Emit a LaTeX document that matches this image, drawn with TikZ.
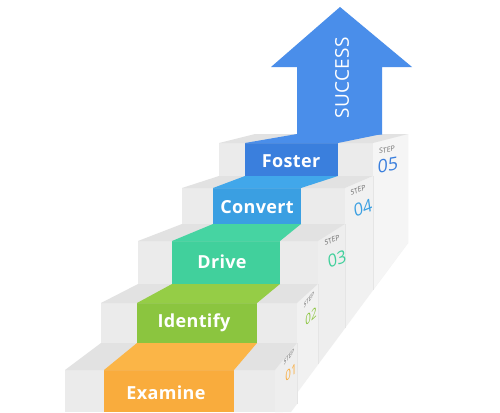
\documentclass[tikz,border=0pt]{standalone}
\usepackage{fontspec}
\setmainfont{Open Sans}
\newfontfamily\labfont{Open Sans}[LetterSpace=2]
\begin{document}
\begin{tikzpicture}[x=1pt,y=-1pt,
  riserg/.style={fill=gray!16, draw=none},
  treadg/.style={fill=gray!23, draw=none},
  sideg/.style={fill=gray!11, draw=none},
  seam/.style={draw=gray!20, line width=0.4pt},
  lab/.style={text=white, font=\labfont\fontsize{18}{18}\selectfont\bfseries, inner sep=0pt},
  stepword/.style={inner sep=0pt, font=\fontsize{7}{7}\selectfont, text=gray!85!black},
  stepnum/.style={inner sep=0pt, font=\fontsize{18}{18}\selectfont},
  narrowword/.style={stepword, xscale=0.65, yslant=0.8},
  narrownum/.style={inner sep=0pt, font=\fontsize{14}{14}\selectfont, xscale=0.7, yslant=0.65}
]
\definecolor{orR}{HTML}{F9AC3D}\definecolor{orT}{HTML}{FBB547}
\definecolor{grR}{HTML}{8BC53F}\definecolor{grT}{HTML}{95CD46}
\definecolor{tlR}{HTML}{41D09C}\definecolor{tlT}{HTML}{46D4A2}
\definecolor{lbR}{HTML}{3A9FE2}\definecolor{lbT}{HTML}{41A7EA}
\definecolor{bbR}{HTML}{3A7FDD}\definecolor{bbT}{HTML}{4A8EEA}
\useasboundingbox (0,0) rectangle (500,412);
\fill[white] (0,0) rectangle (500,412);
% side face of the staircase
\path[sideg] (275,412) -- (275,370) -- (297,343) -- (297,303) -- (318,284) -- (318,241)
  -- (345,224) -- (345,188) -- (373,176) -- (373,143) -- (408,134) -- (408,243) -- (283,412) -- cycle;
\fill[gray!8] (373,143) -- (408,134) -- (408,243) -- (373,290) -- cycle;
\fill[gray!13] (318,241) -- (345,224) -- (345,328) -- (318,364) -- cycle;
\fill[gray!13] (275,370) -- (297,343) -- (297,404) -- (291,412) -- (275,412) -- cycle;
\draw[seam] (297,343) -- (297,404);
\draw[seam] (318,284) -- (318,364);
\draw[seam] (345,224) -- (345,328);
\draw[seam] (373,176) -- (373,290);
% step 1
\path[riserg] (65,370) rectangle (275,412);
\fill[orR] (104,370) rectangle (234,412);
\path[treadg] (65,370) -- (275,370) -- (297,343) -- (101,343) -- cycle;
\fill[orT] (104,370) -- (234,370) -- (257,343) -- (137,343) -- cycle;
% step 2
\path[riserg] (101,303) rectangle (297,343);
\fill[grR] (137,303) rectangle (257,343);
\path[treadg] (101,303) -- (297,303) -- (318,284) -- (138,284) -- cycle;
\fill[grT] (137,303) -- (257,303) -- (280,284) -- (172,284) -- cycle;
% step 3
\path[riserg] (138,241) rectangle (318,284);
\fill[tlR] (172,241) rectangle (280,284);
\path[treadg] (138,241) -- (318,241) -- (345,224) -- (182,224) -- cycle;
\fill[tlT] (172,241) -- (280,241) -- (301,224) -- (213,224) -- cycle;
% step 4
\path[riserg] (182,188) rectangle (345,224);
\fill[lbR] (213,188) rectangle (301,224);
\path[treadg] (182,188) -- (345,188) -- (373,176) -- (219,176) -- cycle;
\fill[lbT] (213,188) -- (301,188) -- (338,176) -- (245,176) -- cycle;
% step 5
\path[riserg] (219,143) rectangle (373,176);
\fill[bbR] (245,143) rectangle (338,176);
\path[treadg] (219,143) -- (373,143) -- (408,134) -- (255,134) -- cycle;
\fill[bbT] (245,143) -- (338,143) -- (382,134) -- (297,134) -- cycle;
% arrow
\fill[bbT] (297,134.5) -- (297,67) -- (271,67) -- (340,7) -- (412,67) -- (382,67) -- (382,134.5) -- cycle;
\node[text=white, inner sep=0pt, font=\labfont\fontsize{19}{19}\selectfont, rotate=90] (success) at (342,78) {SUCCESS};
% labels
\node[lab] (examine) at (166,393) {Examine};
\node[lab] (identify) at (194,323) {Identify};
\node[lab] (drive) at (222,262) {Drive};
\node[lab] (convert) at (257,207) {Convert};
\node[lab] (foster) at (291,161) {Foster};
% step numbers
\node[narrowword] (w1) at (289,357) {STEP};
\node[narrownum, text=orR] (n1) at (291,372) {01};
\node[narrowword] (w2) at (309,300) {STEP};
\node[narrownum, text=grR] (n2) at (311,316) {02};
\node[stepword, rotate=22, xslant=0.25] (w3) at (332,240) {STEP};
\node[stepnum, text=tlR, rotate=22, xslant=0.25, font=\fontsize{17}{17}\selectfont] (n3) at (337,259) {03};
\node[stepword, rotate=22, xslant=0.25] (w4) at (358,190) {STEP};
\node[stepnum, text=lbR, rotate=22, xslant=0.25, font=\fontsize{17}{17}\selectfont] (n4) at (363,208) {04};
\node[stepword, rotate=10, xslant=0.2] (w5) at (387,150) {STEP};
\node[stepnum, text=bbR, rotate=10, xslant=0.2] (n5) at (388,165) {05};
\end{tikzpicture}
\end{document}
